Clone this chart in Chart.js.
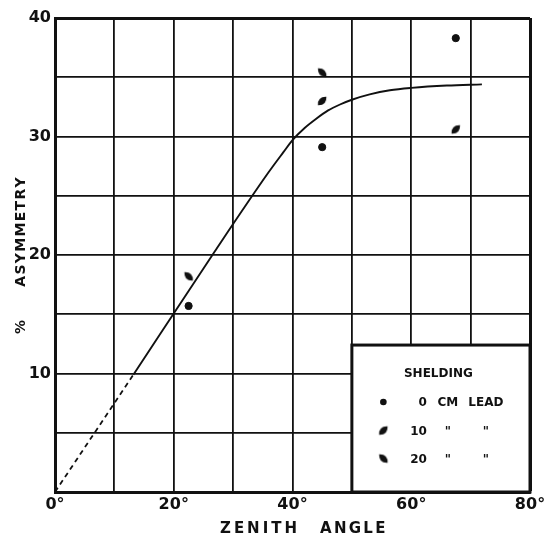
<!DOCTYPE html>
<html lang="en">
<head>
<meta charset="UTF-8" />
<title>Asymmetry vs Zenith Angle</title>
<script src="https://cdn.jsdelivr.net/npm/chart.js"></script>
<style>
  body { margin: 0; background: #fff; }
  canvas { display: block; }
</style>
</head>
<body>
<canvas id="chart" width="546" height="535"></canvas>
<script>
// values (zenith angle in degrees, % asymmetry)
const lead0X = [22.5, 45, 67.5];
const lead0Y = [15.7, 29.1, 38.3];
const lead10X = [45, 67.5];
const lead10Y = [33.0, 30.6];
const lead20X = [22.5, 45];
const lead20Y = [18.2, 35.4];

// hand drawn curve: dashed run back to the origin, then the solid line
const dashX = [0, 13.2];
const dashY = [0, 9.9];
const curveX = [13.2, 26.9, 36, 38.5, 40, 42, 44, 46, 48, 50, 53, 56.4, 60, 66, 71.9];
const curveY = [9.9, 20.3, 27.0, 28.7, 29.7, 30.7, 31.5, 32.2, 32.7, 33.1, 33.55, 33.9, 34.1, 34.3, 34.4];

const xTicks = [0, 20, 40, 60, 80];
const yTicks = [10, 20, 30, 40];

const legendTitle = 'SHELDING';
const legendNums = ['0', '10', '20'];
const legendUnit = ['CM', '"', '"'];
const legendWhat = ['LEAD', '"', '"'];

const INK = '#111';
const FONT = '"DejaVu Sans", sans-serif';

const pts = (xs, ys) => xs.map((x, i) => ({ x: x, y: ys[i] }));

// little leaf shaped markers, "/" for 10 cm and "\" for 20 cm
function leaf(angle) {
  const c = document.createElement('canvas');
  c.width = 16;
  c.height = 16;
  const g = c.getContext('2d');
  g.fillStyle = INK;
  g.translate(8, 8);
  g.rotate(angle);
  g.beginPath();
  g.moveTo(-6, 0);
  g.quadraticCurveTo(0, -6.5, 6, 0);
  g.quadraticCurveTo(0, 6.5, -6, 0);
  g.fill();
  return c;
}
const leafUp = leaf(-Math.PI / 4);
const leafDown = leaf(Math.PI / 4);

// draw text one char at a time so the wide lettering spacing is kept
function spaced(ctx, text, x, y, sp, align) {
  let w = 0;
  for (const ch of text) w += ctx.measureText(ch).width + sp;
  w -= sp;
  let cx = align === 'center' ? x - w / 2 : x;
  ctx.textAlign = 'left';
  for (const ch of text) {
    ctx.fillText(ch, cx, y);
    cx += ctx.measureText(ch).width + sp;
  }
}

const extras = {
  id: 'extras',
  beforeDraw(chart) {
    const ctx = chart.ctx;
    ctx.save();
    ctx.fillStyle = '#fff';
    ctx.fillRect(0, 0, chart.width, chart.height);
    ctx.restore();
  },
  afterDatasetsDraw(chart) {
    const { ctx, scales: { x, y } } = chart;
    const left = x.getPixelForValue(50);
    const right = x.getPixelForValue(80);
    const top = y.getPixelForValue(12.4);
    const bottom = y.getPixelForValue(0);

    ctx.save();
    ctx.fillStyle = '#fff';
    ctx.fillRect(left, top, right - left, bottom - top);
    ctx.lineWidth = 3;
    ctx.strokeStyle = INK;
    ctx.strokeRect(left, top, right - left, bottom - top);

    ctx.fillStyle = INK;
    ctx.font = 'bold 12px ' + FONT;
    ctx.textBaseline = 'alphabetic';
    ctx.textAlign = 'center';
    ctx.fillText(legendTitle, left + 86.5, top + 32);

    const rowBase = [61, 90, 118];
    const marks = [null, leafUp, leafDown];
    legendNums.forEach((n, i) => {
      const by = top + rowBase[i];
      if (marks[i]) {
        ctx.drawImage(marks[i], left + 31.5 - 8, by - 4.5 - 8);
      } else {
        ctx.beginPath();
        ctx.arc(left + 31.5, by - 4, 3.3, 0, Math.PI * 2);
        ctx.fill();
      }
      ctx.textAlign = 'right';
      ctx.fillText(n, left + 75, by);
      ctx.textAlign = 'center';
      ctx.fillText(legendUnit[i], left + 96, by);
      ctx.fillText(legendWhat[i], left + 134, by);
    });
    ctx.restore();
  },
  afterDraw(chart) {
    const ctx = chart.ctx;
    ctx.save();
    ctx.fillStyle = INK;
    ctx.font = 'bold 15px ' + FONT;
    ctx.textBaseline = 'alphabetic';
    spaced(ctx, 'ZENITH', 220, 533, 3, 'left');
    spaced(ctx, 'ANGLE', 320, 533, 2.3, 'left');

    ctx.translate(25, 0);
    ctx.rotate(-Math.PI / 2);
    ctx.font = 'bold 14px ' + FONT;
    spaced(ctx, 'ASYMMETRY', -232, 0, 1.3, 'center');
    spaced(ctx, '%', -327, 0, 0, 'center');
    ctx.restore();
  }
};

const tickFont = { family: FONT, weight: 'bold', size: 16 };

new Chart(document.getElementById('chart'), {
  type: 'scatter',
  data: {
    datasets: [
      {
        type: 'line',
        data: pts(dashX, dashY),
        borderColor: INK,
        borderWidth: 1.8,
        borderDash: [5, 4],
        pointRadius: 0
      },
      {
        type: 'line',
        data: pts(curveX, curveY),
        borderColor: INK,
        borderWidth: 1.9,
        cubicInterpolationMode: 'monotone',
        pointRadius: 0
      },
      {
        label: '0 cm lead',
        data: pts(lead0X, lead0Y),
        pointStyle: 'circle',
        pointRadius: 3.6,
        backgroundColor: INK,
        borderColor: INK
      },
      {
        label: '10 cm lead',
        data: pts(lead10X, lead10Y),
        pointStyle: leafUp
      },
      {
        label: '20 cm lead',
        data: pts(lead20X, lead20Y),
        pointStyle: leafDown
      }
    ]
  },
  options: {
    responsive: false,
    animation: false,
    layout: { padding: { top: 18, right: 16, left: 0, bottom: 0 } },
    plugins: {
      legend: { display: false },
      tooltip: { enabled: false }
    },
    scales: {
      x: {
        type: 'linear',
        min: 0,
        max: 80,
        afterFit: s => { s.height = 43; s.paddingLeft = 0; s.paddingRight = 0; },
        ticks: {
          stepSize: 10,
          autoSkip: false,
          maxRotation: 0,
          padding: 3,
          color: INK,
          font: tickFont,
          callback: v => (xTicks.includes(v) ? v + '°' : '')
        },
        grid: {
          color: INK,
          drawTicks: false,
          lineWidth: c => (c.tick && c.tick.value === 80 ? 3 : 1.8)
        },
        border: { color: INK, width: 3 }
      },
      y: {
        min: 0,
        max: 40,
        afterFit: s => { s.width = 55; s.paddingTop = 0; s.paddingBottom = 0; },
        ticks: {
          stepSize: 5,
          autoSkip: false,
          padding: 4,
          color: INK,
          font: tickFont,
          callback: v => (yTicks.includes(v) ? String(v) : '')
        },
        grid: {
          color: INK,
          drawTicks: false,
          lineWidth: c => (c.tick && c.tick.value === 40 ? 3 : 1.8)
        },
        border: { color: INK, width: 3 }
      }
    }
  },
  plugins: [extras]
});
</script>
</body>
</html>
